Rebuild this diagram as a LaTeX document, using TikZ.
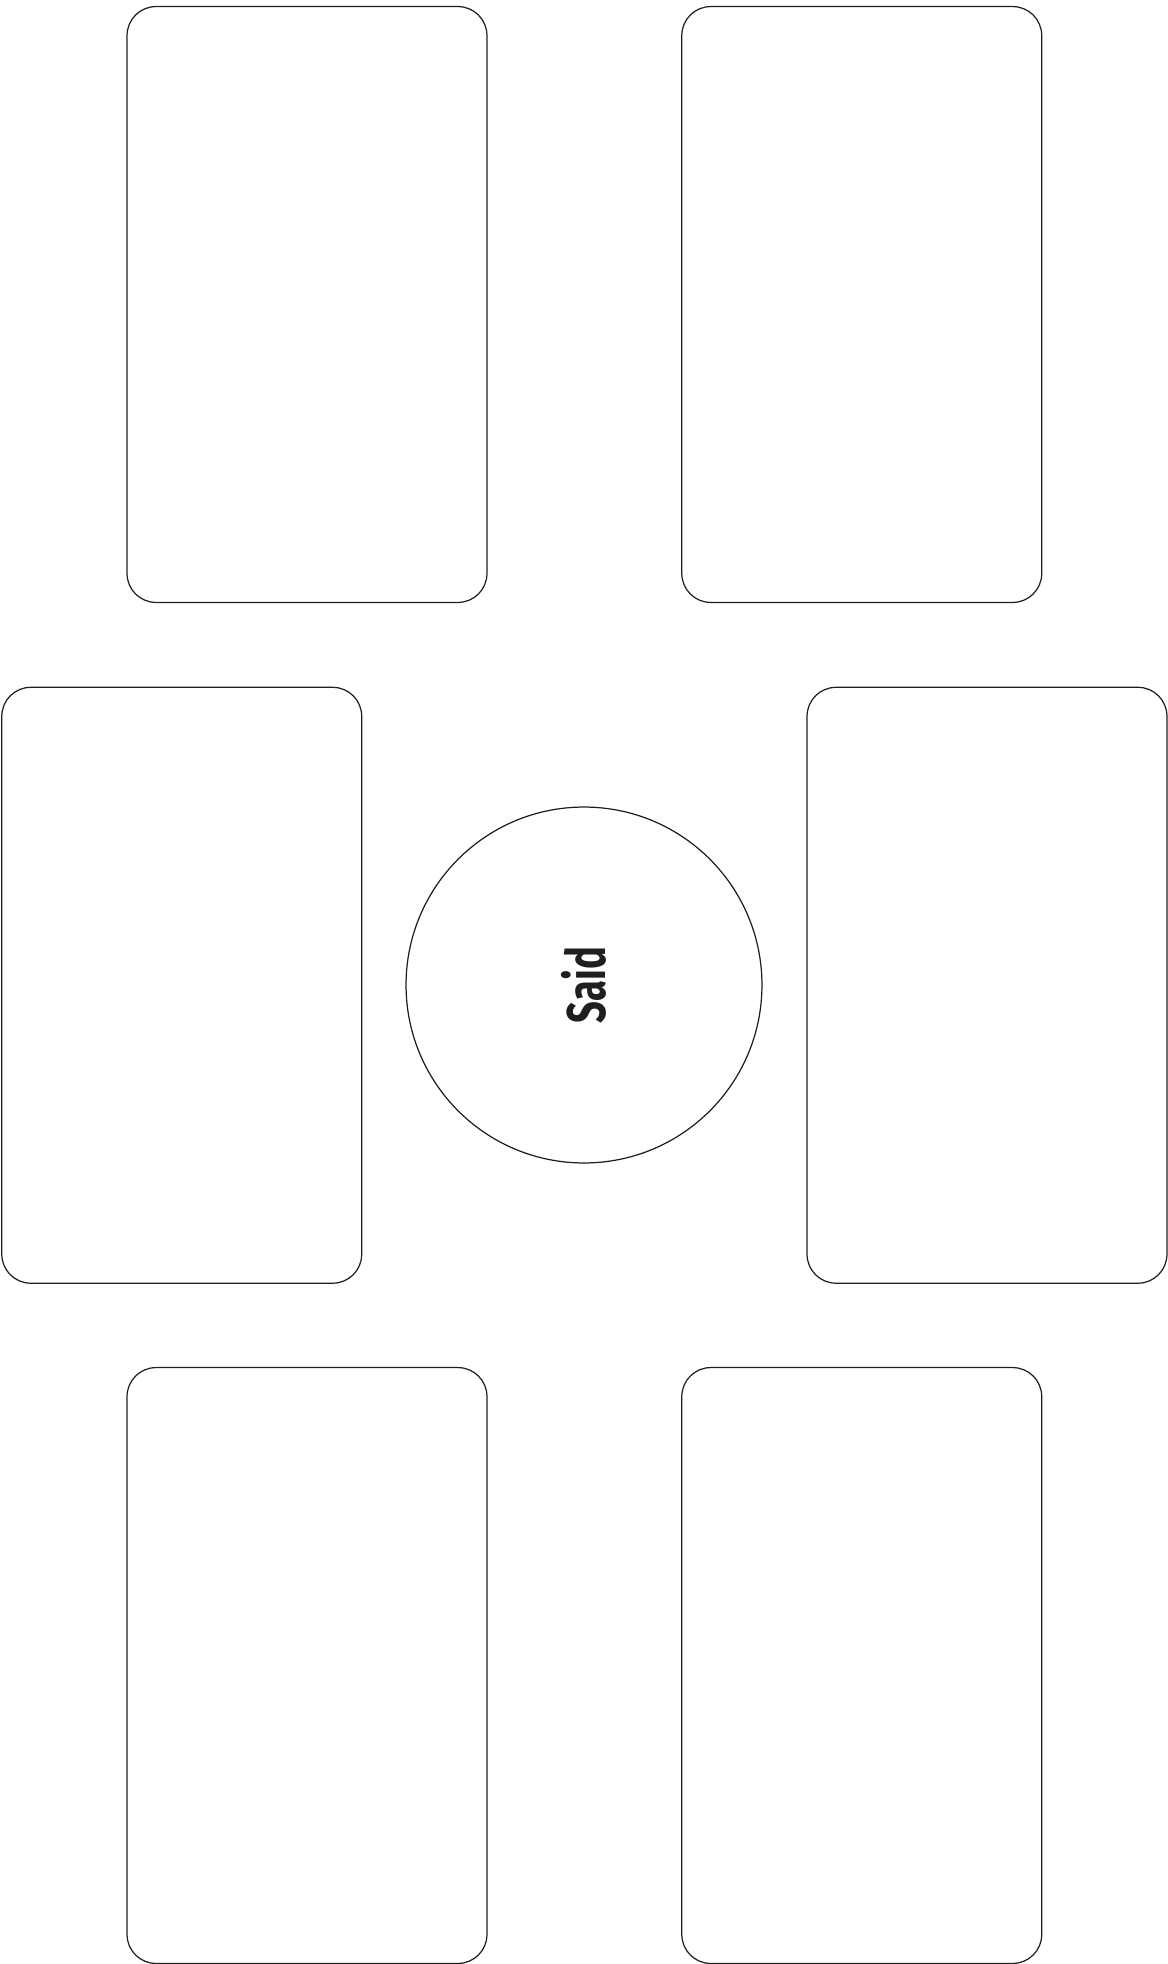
\documentclass[tikz,border=0pt]{standalone}
\usepackage{fontspec}
\usepackage{tikz}
\newfontfamily\saidfont[FakeStretch=0.7]{Fira Sans}

\begin{document}
\begin{tikzpicture}[x=0.02cm, y=-0.02cm,
	card/.style={draw=black!88, line width=0.7pt, rounded corners=0.58cm, minimum width=7.2cm, minimum height=11.92cm, inner sep=0pt},
	hub/.style={draw=black!88, line width=0.7pt, circle, minimum size=7.12cm, inner sep=0pt}]
	\useasboundingbox (0,0) rectangle (1168,1964);
	\foreach \n/\x/\y in {topleft/307/304.5, topright/861.75/304.5, midleft/181.75/985.25, midright/987/985.25, botleft/307/1665.5, botright/861.75/1665.5} {\node[card] (\n) at (\x,\y) {};}
	\node[hub] (said) at (584,985) {};
	\node[rotate=90, text=black!88, font=\saidfont\bfseries\fontsize{31}{31}\selectfont] at (said.center) {Said};
\end{tikzpicture}
\end{document}
